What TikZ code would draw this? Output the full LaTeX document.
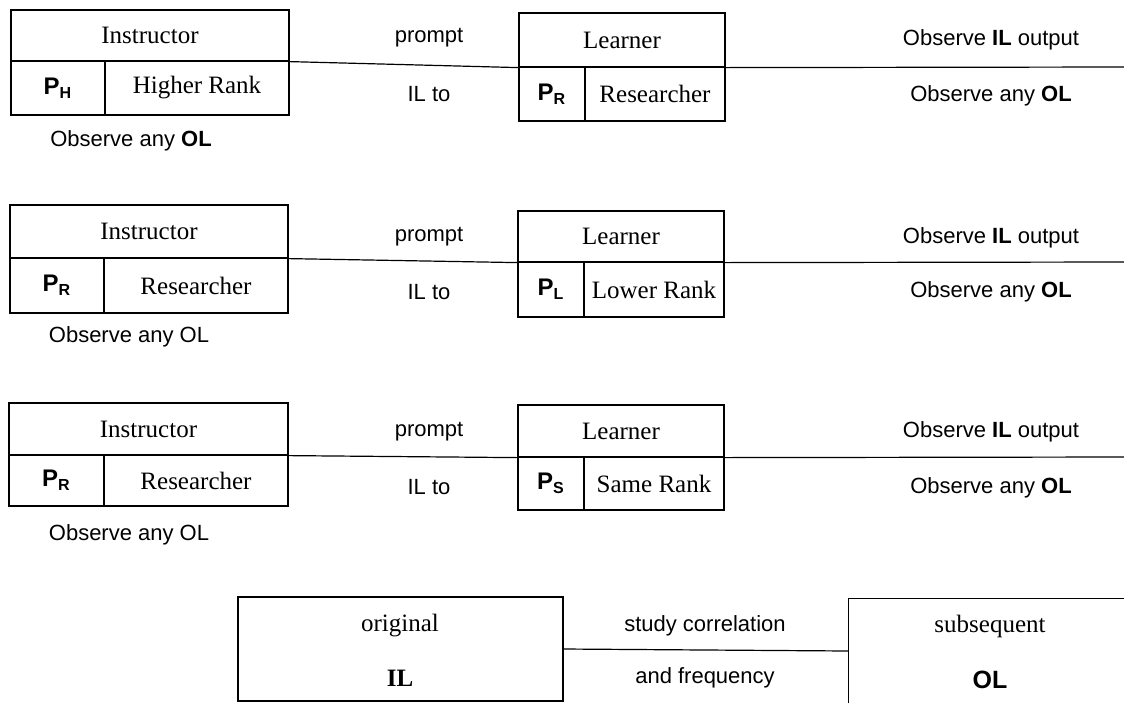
\documentclass[tikz,border=0pt]{standalone}
\usepackage{fontspec}
\setmainfont{Liberation Serif}
\setsansfont{Liberation Sans}
\usetikzlibrary{fit}
\begin{document}
\begin{tikzpicture}[x=0.5pt,y=-0.5pt,
  box/.style={draw, line width=0.6pt, inner sep=0pt},
  serif/.style={inner sep=0pt, font=\fontsize{12.5}{14}\selectfont},
  ptag/.style={inner sep=0pt, font=\sffamily\bfseries\fontsize{12}{13}\selectfont},
  tag/.style={inner sep=0pt, font=\sffamily\fontsize{11}{12}\selectfont},
  link/.style={line width=0.6pt}]
\useasboundingbox (0,0) rectangle (1124,703);

% ---------- row 1: higher rank instructs researcher ----------
\node[box, fit={(11,10)(289,61)}] (i1) {};
\node[box, fit={(11,61)(105,115)}] (i1p) {};
\node[box, fit={(105,61)(289,115)}] (i1r) {};
\node[box, fit={(519,13)(725,67)}] (l1) {};
\node[box, fit={(519,67)(585,121)}] (l1p) {};
\node[box, fit={(585,67)(725,121)}] (l1r) {};
\node[serif] at (i1) {Instructor};
\node[ptag] at (i1p) {P\textsubscript{H}};
\node[serif] at (i1r) {Higher Rank};
\node[serif] at (l1) {Learner};
\node[ptag] at (l1p) {P\textsubscript{R}};
\node[serif] at (l1r) {Researcher};
\coordinate (e1) at (1124,67);
\draw[link] (i1.south east) -- (l1.south west);
\draw[link] (l1.south east) -- (e1);
\node[tag] (pr1) at (429,38) {prompt};
\node[tag] (il1) at (429,94) {IL to};
\node[tag] (ob1) at (991,40) {Observe \textbf{IL} output};
\node[tag] (oa1) at (991,96) {Observe any \textbf{OL}};
\node[tag] (ou1) at (131,141) {Observe any \textbf{OL}};

% ---------- row 2: researcher instructs lower rank ----------
\node[box, fit={(10,205)(288,258)}] (i2) {};
\node[box, fit={(10,258)(104,313)}] (i2p) {};
\node[box, fit={(104,258)(288,313)}] (i2r) {};
\node[box, fit={(518,211)(724,262)}] (l2) {};
\node[box, fit={(518,262)(584,317)}] (l2p) {};
\node[box, fit={(584,262)(724,317)}] (l2r) {};
\node[serif] at (i2) {Instructor};
\node[ptag] at (i2p) {P\textsubscript{R}};
\node[serif] at (i2r) {Researcher};
\node[serif] at (l2) {Learner};
\node[ptag] at (l2p) {P\textsubscript{L}};
\node[serif] at (l2r) {Lower Rank};
\coordinate (e2) at (1124,262);
\draw[link] (i2.south east) -- (l2.south west);
\draw[link] (l2.south east) -- (e2);
\node[tag] (pr2) at (429,237) {prompt};
\node[tag] (il2) at (429,292) {IL to};
\node[tag] (ob2) at (991,238) {Observe \textbf{IL} output};
\node[tag] (oa2) at (991,292) {Observe any \textbf{OL}};
\node[tag] (ou2) at (129,337) {Observe any OL};

% ---------- row 3: researcher instructs same rank ----------
\node[box, fit={(9,403)(288,455)}] (i3) {};
\node[box, fit={(9,455)(104,506)}] (i3p) {};
\node[box, fit={(104,455)(288,506)}] (i3r) {};
\node[box, fit={(518,405)(724,457)}] (l3) {};
\node[box, fit={(518,457)(584,510)}] (l3p) {};
\node[box, fit={(584,457)(724,510)}] (l3r) {};
\node[serif] at (i3) {Instructor};
\node[ptag] at (i3p) {P\textsubscript{R}};
\node[serif] at (i3r) {Researcher};
\node[serif] at (l3) {Learner};
\node[ptag] at (l3p) {P\textsubscript{S}};
\node[serif] at (l3r) {Same Rank};
\coordinate (e3) at (1124,457);
\draw[link] (i3.south east) -- (l3.south west);
\draw[link] (l3.south east) -- (e3);
\node[tag] (pr3) at (429,432) {prompt};
\node[tag] (il3) at (429,487) {IL to};
\node[tag] (ob3) at (991,432) {Observe \textbf{IL} output};
\node[tag] (oa3) at (991,488) {Observe any \textbf{OL}};
\node[tag] (ou3) at (129,535) {Observe any OL};

% ---------- bottom: IL / OL correlation ----------
\node[box, fit={(238,597)(563,701)}] (orig) {};
\node[inner sep=0pt, fit={(849,599)(1124,703)}] (subs) {};
\draw[link] (subs.south west) -- (subs.north west) -- (subs.north east);
\draw[link] (orig.east) -- (subs.west);
\node[serif] (ot) at (400,626) {original};
\node[serif, font=\bfseries\fontsize{12.5}{14}\selectfont] (ob) at (400,678) {IL};
\node[tag] (sc) at (705,626) {study correlation};
\node[tag] (af) at (705,678) {and frequency};
\node[serif] (st) at (990,626) {subsequent};
\node[ptag, font=\sffamily\bfseries\fontsize{12.5}{14}\selectfont] (sb) at (990,680) {OL};
\end{tikzpicture}
\end{document}
